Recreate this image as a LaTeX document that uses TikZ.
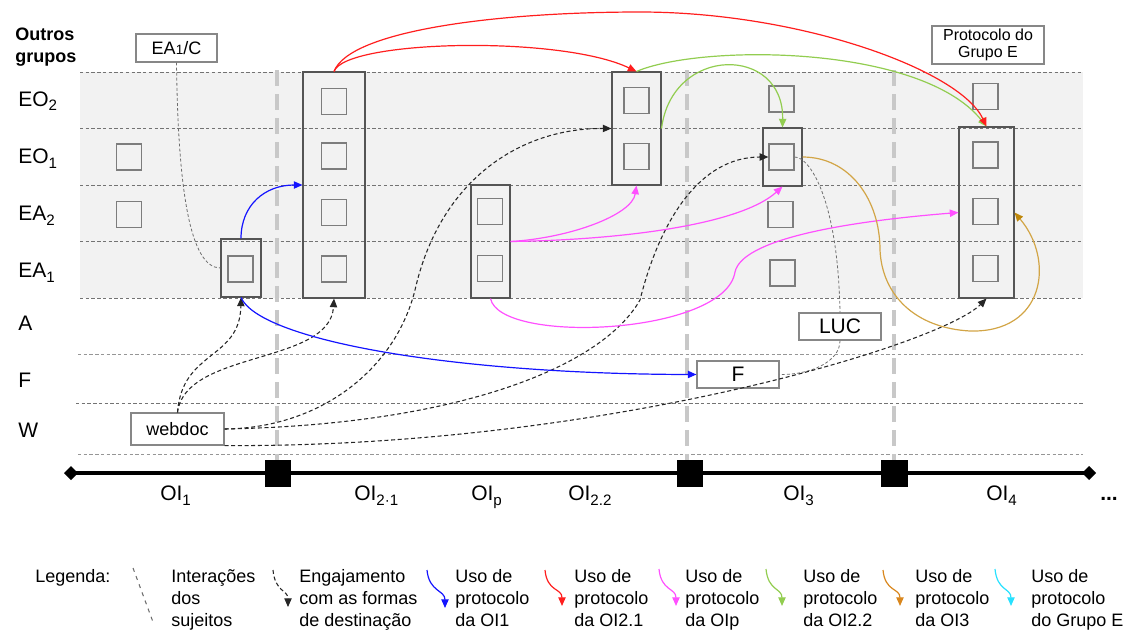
\documentclass[tikz,border=0pt]{standalone}
\usepackage{fontspec}
\setmainfont{Liberation Sans}
\usetikzlibrary{arrows.meta}
\definecolor{band}{RGB}{242,242,242}
\definecolor{lineg}{RGB}{115,115,115}
\definecolor{lineg2}{RGB}{150,150,150}
\definecolor{vg}{RGB}{200,200,200}
\definecolor{sqg}{RGB}{125,125,125}
\definecolor{colg}{RGB}{85,85,85}
\definecolor{boxg}{RGB}{135,135,135}
\definecolor{cblue}{RGB}{20,20,255}
\definecolor{cred}{RGB}{255,30,30}
\definecolor{cmag}{RGB}{255,80,255}
\definecolor{cgreen}{RGB}{146,205,80}
\definecolor{cgold}{RGB}{210,165,70}
\definecolor{cgoldtip}{RGB}{190,135,10}
\definecolor{corange}{RGB}{217,135,30}
\definecolor{ccyan}{RGB}{40,225,255}
\definecolor{idg}{RGB}{110,110,110}
\newcommand\szA{\fontsize{13.5pt}{16.5pt}\selectfont}
\newcommand\szB{\fontsize{15.75pt}{18pt}\selectfont}
\newcommand\szC{\fontsize{12pt}{12.75pt}\selectfont}
\newcommand\lsub[1]{\raisebox{-0.45ex}{\scalebox{0.72}{#1}}}
\newcommand\ssm[1]{\scalebox{0.75}{#1}}
\newcommand\mlines[1]{\begin{tabular}[t]{@{}l@{}}#1\end{tabular}}
\begin{document}
\begin{tikzpicture}[x=0.75pt,y=-0.75pt,font=\szA,
  sqbox/.style={draw=sqg, line width=0.9pt, minimum width=18.75pt, minimum height=19.5pt, inner sep=0pt},
  colbox/.style={draw=colg, line width=0.8pt, inner sep=0pt},
  tbox/.style={draw=boxg, fill=white, line width=0.8pt, inner sep=0pt},
  hd/.style={draw=lineg, line width=0.7pt, dash pattern=on 2.5pt off 1.8pt},
  hdl/.style={draw=lineg2, line width=0.7pt, dash pattern=on 2.5pt off 1.8pt},
  vd/.style={draw=vg, line width=2.5pt, dash pattern=on 12pt off 6pt},
  idash/.style={draw=idg, line width=0.6pt, dash pattern=on 2.2pt off 1.6pt},
  edash/.style={draw=black!85, line width=0.8pt, dash pattern=on 3pt off 2pt, -{Triangle[length=6.5pt,width=5.5pt]}},
  uarr/.style={line width=0.9pt, -{Triangle[length=6.5pt,width=5.5pt]}},
  rowlbl/.style={font=\szB, anchor=base west, inner sep=0pt},
  txt/.style={anchor=base west, inner sep=0pt}]
\useasboundingbox (0,0) rectangle (1128,633);
% band and grid
\fill[band] (80,72) rectangle (1083,298);
\foreach \yy in {72,128.5,185,241.5,298} \draw[hd] (80,\yy) -- (1083,\yy);
\draw[hdl] (78,354) -- (1083,354);
\draw[hd] (76,403) -- (1083,403);
\draw[hdl] (78,454) -- (1083,454);
\foreach \xx in {277,687,894} \draw[vd] (\xx,70) -- (\xx,460);
% timeline
\draw[line width=3pt] (71,473) -- (1089,473);
\fill (64,473) -- (71,466) -- (78,473) -- (71,480) -- cycle;
\fill (1082,473) -- (1089,466) -- (1096,473) -- (1089,480) -- cycle;
\fill (265,460) rectangle (291,487);
\fill (677,460) rectangle (703,487);
\fill (881,460) rectangle (908,487);
% labels
\node[txt, font=\szA\bfseries] (og) at (15,40) {\mlines{Outros\\grupos}};
\node[rowlbl] (rEOb) at (18,106) {EO\lsub{2}};
\node[rowlbl] (rEOa) at (18,163) {EO\lsub{1}};
\node[rowlbl] (rEAb) at (18,220) {EA\lsub{2}};
\node[rowlbl] (rEAa) at (18,277) {EA\lsub{1}};
\node[rowlbl] (rA) at (18,330) {A};
\node[rowlbl] (rF) at (18,387) {F};
\node[rowlbl] (rW) at (18,437) {W};
\node[rowlbl] (t1) at (160,500) {OI\lsub{1}};
\node[rowlbl] (t21) at (354,500) {OI\lsub{2·1}};
\node[rowlbl] (tp) at (471,500) {OI\lsub{p}};
\node[rowlbl] (t22) at (568,500) {OI\lsub{2.2}};
\node[rowlbl] (t3) at (783,500) {OI\lsub{3}};
\node[rowlbl] (t4) at (986,500) {OI\lsub{4}};
\node[rowlbl, font=\szB\bfseries] (dots) at (1100,500) {...};
% loose squares
\node[sqbox] (sa) at (129,157) {};
\node[sqbox] (sb) at (129,214.5) {};
% columns
\node[colbox, minimum width=30pt, minimum height=43.5pt] (ea1box) at (241,268) {};
\node[sqbox] (ea1sq) at (240.5,269) {};
\node[colbox, minimum width=46.5pt, minimum height=169.5pt] (oi21box) at (334,185) {};
\node[sqbox] (q1) at (334,101.5) {};
\node[sqbox] (q2) at (334,156) {};
\node[sqbox] (q3) at (334,212.5) {};
\node[sqbox] (q4) at (334,269) {};
\node[colbox, minimum width=29.25pt, minimum height=84.75pt] (oipbox) at (490.5,241.5) {};
\node[sqbox] (p1) at (490,211.5) {};
\node[sqbox] (p2) at (490,268.5) {};
\node[colbox, minimum width=36.75pt, minimum height=84.75pt] (oi22box) at (636.5,128.5) {};
\node[sqbox] (r1) at (636.5,100.5) {};
\node[sqbox] (r2) at (636.5,156.5) {};
\node[sqbox] (o1) at (781.5,99) {};
\node[colbox, minimum width=29.25pt, minimum height=43.5pt] (oi3box) at (782.5,157) {};
\node[sqbox] (oi3sq) at (781.5,157) {};
\node[sqbox] (o3) at (780.5,214.5) {};
\node[sqbox] (o4) at (782.5,273) {};
\node[sqbox] (f1) at (985.5,96.5) {};
\node[colbox, minimum width=41.25pt, minimum height=128.25pt] (oi4box) at (986.5,212.5) {};
\node[sqbox] (f2) at (985.5,155) {};
\node[sqbox] (f3) at (985.5,211.5) {};
\node[sqbox] (f4) at (985.5,268.5) {};
% text boxes
\node[tbox, minimum width=60.75pt, minimum height=21pt] (ea1c) at (176.5,48) {EA\ssm{1}/C};
\node[tbox, minimum width=84pt, minimum height=28.5pt, font=\szC, align=center] (proto) at (988,45) {Protocolo do\\Grupo E};
\node[tbox, minimum width=61.5pt, minimum height=20.25pt, font=\szB] (luc) at (840,326.5) {LUC};
\node[tbox, minimum width=61.5pt, minimum height=20.25pt, font=\szB] (fbox) at (738,374.5) {F};
\node[tbox, minimum width=69.75pt, minimum height=24pt] (webdoc) at (177.5,429) {webdoc};
% interactions (gray dashed)
\draw[idash] (ea1c.south) .. controls (178,190) and (190,268) .. (ea1box.west);
\draw[idash] (oi3sq.east) .. controls (810,157) and (838,200) .. (luc.north);
\draw[idash] (luc.south) .. controls (840,362) and (810,375) .. (fbox.east);
% engagement (black dashed)
\draw[edash] (webdoc.north) .. controls (182,350) and (240,360) .. (ea1box.south);
\draw[edash] (webdoc.north) .. controls (185,350) and (330,365) .. (oi21box.south);
\draw[edash] (webdoc.east) .. controls (320,428) and (395,370) .. (415,290) .. controls (440,180) and (520,128) .. (oi22box.west);
\draw[edash] (webdoc.east) .. controls (450,425) and (600,370) .. (640,300) .. controls (660,220) and (700,157) .. (oi3sq.west);
\draw[edash] (webdoc.south east) .. controls (600,448) and (940,345) .. (oi4box.south);
% blue
\draw[uarr, cblue] (ea1box.north) .. controls (241,205) and (265,185) .. (oi21box.west);
\draw[uarr, cblue] (ea1box.south) .. controls (260,340) and (450,374) .. (fbox.west);
% green
\draw[uarr, cgreen] (oi22box.north) .. controls (700,44) and (920,44) .. (oi4box.north);
\draw[uarr, cgreen] (oi22box.east) .. controls (672,45) and (784,45) .. (oi3box.north);
% red
\draw[uarr, cred] (oi21box.north) .. controls (345,40) and (560,35) .. (oi22box.north);
\draw[uarr, cred] (oi21box.north) .. controls (350,30) and (500,12) .. (640,12) .. controls (800,12) and (960,70) .. (oi4box.north);
% magenta
\draw[uarr, cmag] (oipbox.east) .. controls (570,238) and (632,215) .. (oi22box.south);
\draw[uarr, cmag] (oipbox.east) .. controls (620,240) and (740,225) .. (oi3box.south);
\draw[uarr, cmag] (oipbox.south) .. controls (500,345) and (725,335) .. (735,272) .. controls (742,240) and (840,222) .. (oi4box.west);
% gold
\draw[line width=0.9pt, cgold, -{Triangle[length=6.5pt,width=5.5pt,color=cgoldtip]}] (oi3box.east) .. controls (850,157) and (880,200) .. (880,250) .. controls (882,295) and (915,328) .. (970,331) .. controls (1045,333) and (1055,260) .. (oi4box.east);
% legend
\node[txt] (leg) at (35,582) {Legenda:};
\draw[idg, line width=0.8pt, dash pattern=on 3pt off 3.5pt] (133,568) -- (153,622);
\node[txt] (l1) at (171,582) {\mlines{Interações\\dos\\sujeitos}};
\draw[edash] (273,570) .. controls (275,592) and (288,590) .. (288,607);
\node[txt] (l2) at (299,582) {\mlines{Engajamento\\com as formas\\de destinação}};
\draw[uarr, cblue] (427,570) .. controls (429,592) and (445,590) .. (445,608);
\node[txt] (l3) at (455,582) {\mlines{Uso de\\protocolo\\da OI1}};
\draw[uarr, cred] (545,570) .. controls (547,592) and (562,588) .. (562,606);
\node[txt] (l4) at (574,582) {\mlines{Uso de\\protocolo\\da OI2.1}};
\draw[uarr, cmag] (659,569) .. controls (661,591) and (676,588) .. (676,606);
\node[txt] (l5) at (685,582) {\mlines{Uso de\\protocolo\\da OIp}};
\draw[uarr, cgreen] (766,569) .. controls (768,591) and (782,588) .. (782,606);
\node[txt] (l6) at (803,582) {\mlines{Uso de\\protocolo\\da OI2.2}};
\draw[uarr, corange] (883,570) .. controls (885,592) and (900,588) .. (900,606);
\node[txt] (l7) at (915,582) {\mlines{Uso de\\protocolo\\da OI3}};
\draw[uarr, ccyan] (995,569) .. controls (997,591) and (1011,588) .. (1011,606);
\node[txt] (l8) at (1031,582) {\mlines{Uso de\\protocolo\\do Grupo E}};
\end{tikzpicture}
\end{document}
